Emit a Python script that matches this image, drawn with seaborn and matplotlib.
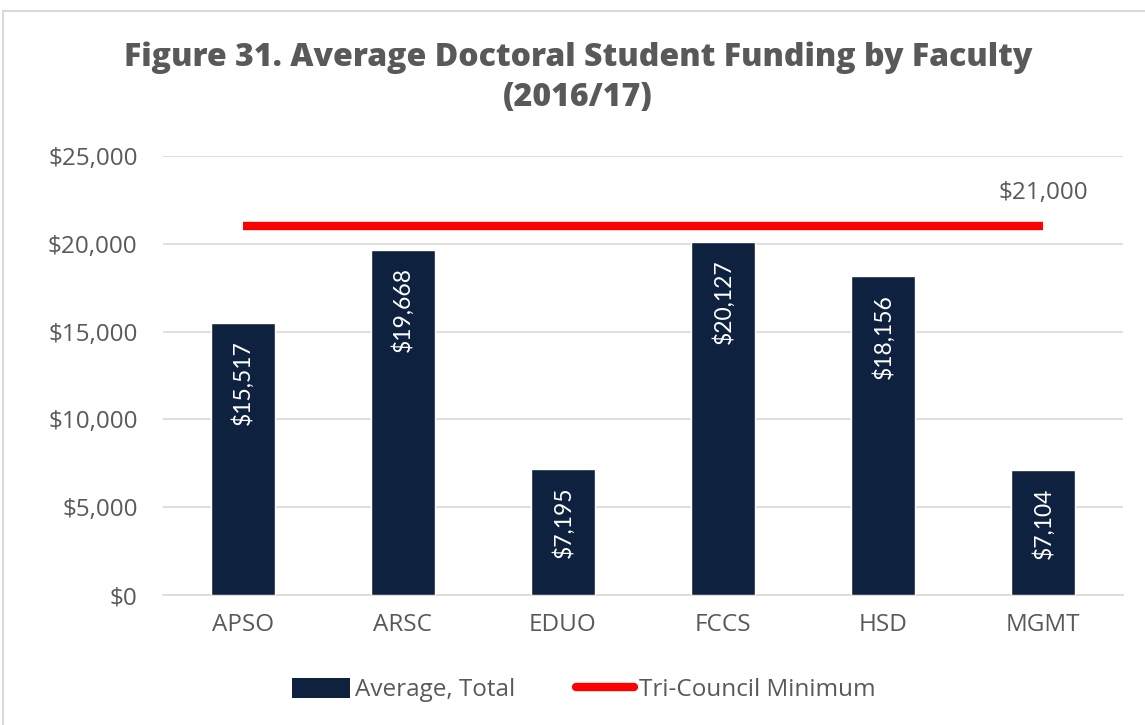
import matplotlib
matplotlib.use("Agg")
import matplotlib.pyplot as plt
import seaborn as sns
import pandas as pd
from matplotlib.ticker import FuncFormatter, MultipleLocator
from matplotlib.patches import Patch, Rectangle
from matplotlib.lines import Line2D

faculties = ["APSO", "ARSC", "EDUO", "FCCS", "HSD", "MGMT"]
average_total = [15517, 19668, 7195, 20127, 18156, 7104]
tri_council_min = [21000, 21000, 21000, 21000, 21000, 21000]
title = "Figure 31. Average Doctoral Student Funding by Faculty\n(2016/17)"

sns.set_theme(style="white")
plt.rcParams['font.family'] = ['Open Sans', 'DejaVu Sans']

bar_color = "#0E2240"
text_color = "#595959"

fig = plt.figure(figsize=(11.45, 7.25), dpi=100)
ax = fig.add_axes([0.142, 0.1793, 0.839, 0.6055])

df = pd.DataFrame({"Faculty": faculties, "Average": average_total})
sns.barplot(data=df, x="Faculty", y="Average", color=bar_color, width=0.4,
            saturation=1, ax=ax, zorder=3)
ax.plot(range(len(faculties)), tri_council_min, color="#FF0000", lw=6,
        solid_capstyle="butt", zorder=4)

ax.set_ylim(0, 25000)
ax.set_xlim(-0.5, len(faculties) - 0.5)
ax.yaxis.set_major_locator(MultipleLocator(5000))
ax.yaxis.set_major_formatter(FuncFormatter(lambda v, p: f"${v:,.0f}"))
ax.grid(axis="y", color="#D9D9D9", lw=1.2, zorder=0)
ax.set_axisbelow(True)
for s in ["left", "right", "top"]:
    ax.spines[s].set_visible(False)
ax.spines["bottom"].set_color("#D9D9D9")
ax.spines["bottom"].set_linewidth(1.2)
ax.set_xlabel("")
ax.set_ylabel("")
ax.tick_params(axis="both", length=0, labelsize=17.5, colors=text_color)
ax.tick_params(axis="y", pad=18)
ax.tick_params(axis="x", pad=13)

for i, v in enumerate(average_total):
    ax.text(i, v - 1000, f"${v:,}", rotation=90, ha="center", va="top",
            color="white", fontsize=16.5, zorder=5, family=['Lato', 'DejaVu Sans'])

ax.text(len(faculties) - 1, tri_council_min[-1] + 1200, f"${tri_council_min[-1]:,}",
        ha="center", va="bottom", color=text_color, fontsize=17.5)

fig.text(0.505, 0.893, title, ha="center", va="center", fontsize=23,
         fontweight="heavy", color=text_color, linespacing=1.35,
         family=['Open Sans', 'DejaVu Sans'], fontstretch="condensed")

handles = [Patch(facecolor=bar_color, edgecolor="none"),
           Line2D([0], [0], color="#FF0000", lw=6)]
fig.legend(handles, ["Average, Total", "Tri-Council Minimum"], loc="center",
           bbox_to_anchor=(0.51, 0.048), ncol=2, frameon=False, fontsize=17.5,
           labelcolor=text_color, handlelength=2.4, handletextpad=0.2,
           columnspacing=2.5, handleheight=0.9)

fig.patches.append(Rectangle((0.003, -0.01), 1.2, 0.995, transform=fig.transFigure,
                             fill=False, edgecolor="#D9D9D9", lw=1.5))

fig.savefig("out.png", dpi=100)
